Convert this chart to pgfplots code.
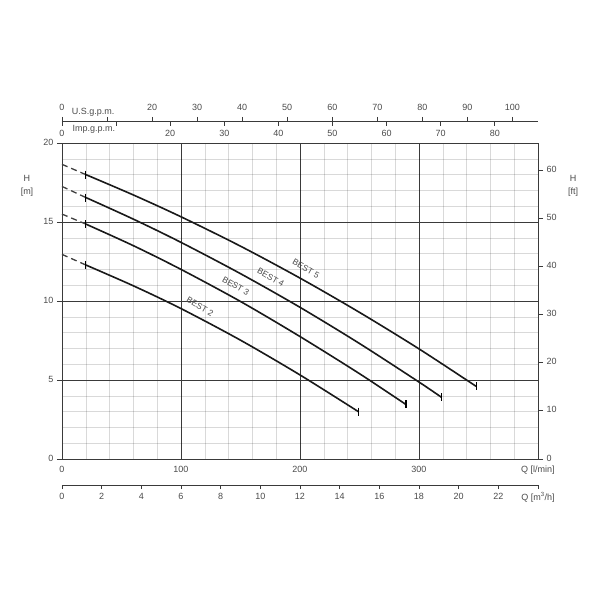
\documentclass[border=0pt]{standalone}
\usepackage{fontspec}
\setmainfont{Liberation Sans}
\usepackage{pgfplots}
\pgfplotsset{compat=1.18}
\definecolor{ax}{HTML}{3A3A3A}
\definecolor{txt}{HTML}{4A4A4A}
\begin{document}
\begin{tikzpicture}[x=1pt,y=1pt]
\useasboundingbox (-62pt,-141pt) rectangle (538pt,459pt);
\pgfplotsset{every axis/.append style={scale only axis, width=476pt,
  /pgf/number format/assume math mode=true,
  tick label style={font=\fontsize{9}{10}\selectfont, text=txt},
  axis line style={ax, line width=0.9pt},
  tick style={ax, line width=0.8pt},
  typeset ticklabels with strut}}
% main axis
\begin{axis}[at={(0pt,0pt)}, anchor=south west, height=316pt,
  xmin=0, xmax=400, ymin=0, ymax=20,
  xtick={0,100,200,300,400}, xticklabels={0,100,200,300,{Q [l/min]}},
  ytick={0,5,10,15,20},
  minor x tick num=4, minor y tick num=4,
  grid=both,
  major grid style={ax, line width=0.8pt},
  minor grid style={black, opacity=0.15, line width=0.5pt},
  ytick pos=left, xtick pos=bottom,
  tick align=outside, major tick length=5pt, minor tick length=0pt,
  xtick style={draw=none},
  xticklabel style={yshift=2pt},
  clip=false]
% dashed starts
\addplot[black!75, line width=1.3pt, dash pattern=on 6pt off 4pt] coordinates {(0,18.65) (20,18.0)};
\addplot[black!75, line width=1.3pt, dash pattern=on 6pt off 4pt] coordinates {(0,17.25) (20,16.55)};
\addplot[black!75, line width=1.3pt, dash pattern=on 6pt off 4pt] coordinates {(0,15.5) (20,14.87)};
\addplot[black!75, line width=1.3pt, dash pattern=on 6pt off 4pt] coordinates {(0,12.95) (20,12.28)};
% BEST 5
\addplot[black!90, line width=1.6pt, smooth] coordinates {(20,18.0) (60,16.71) (100,15.33) (150,13.47) (200,11.45) (250,9.28) (300,6.97) (348,4.6)};
% BEST 4
\addplot[black!90, line width=1.6pt, smooth] coordinates {(20,16.55) (60,15.18) (100,13.71) (150,11.73) (200,9.6) (250,7.31) (300,4.87) (319,3.9)};
% BEST 3
\addplot[black!90, line width=1.6pt, smooth] coordinates {(20,14.87) (60,13.5) (100,12.0) (150,9.97) (200,7.75) (250,5.4) (289,3.45)};
% BEST 2
\addplot[black!90, line width=1.6pt, smooth] coordinates {(20,12.28) (60,10.96) (100,9.52) (150,7.52) (200,5.32) (249,3.0)};
% end marks
\addplot[only marks, mark=|, mark size=4pt, mark options={line width=1.2pt, black}] coordinates {(20,18.0) (20,16.55) (20,14.87) (20,12.28) (348,4.6) (319,3.9) (289,3.45) (249,3.0)};
\node[rotate=-30, text=txt, font=\fontsize{8.5}{10}\selectfont] at (axis cs:205,12.05) {BEST 5};
\node[rotate=-30, text=txt, font=\fontsize{8.5}{10}\selectfont] at (axis cs:175.4,11.5) {BEST 4};
\node[rotate=-30, text=txt, font=\fontsize{8.5}{10}\selectfont] at (axis cs:146,10.95) {BEST 3};
\node[rotate=-30, text=txt, font=\fontsize{8.5}{10}\selectfont] at (axis cs:116,9.65) {BEST 2};
\end{axis}
% right ft axis
\begin{axis}[at={(0pt,0pt)}, anchor=south west, height=316pt,
  xmin=0, xmax=400, ymin=0, ymax=65.6168,
  hide x axis, axis y line*=right,
  ytick={0,10,20,30,40,50,60},
  tick align=outside, major tick length=5pt]
\addplot[draw=none] coordinates {(0,0)};
\end{axis}
% bottom m3/h axis
\begin{axis}[at={(0pt,-26pt)}, anchor=south west, height=10pt,
  xmin=0, xmax=24, ymin=0, ymax=1,
  axis x line*=bottom, hide y axis,
  xtick={0,2,4,6,8,10,12,14,16,18,20,22,24},
  xticklabels={0,2,4,6,8,10,12,14,16,18,20,22,{Q [m\textsuperscript{3}/h]}},
  tick align=outside, major tick length=4pt]
\addplot[draw=none] coordinates {(0,0)};
\end{axis}
% top US gpm axis
\begin{axis}[at={(0pt,338pt)}, anchor=north west, height=10pt,
  xmin=0, xmax=105.668, ymin=0, ymax=1,
  axis x line*=top, hide y axis,
  xtick={0,10,20,30,40,50,60,70,80,90,100},
  xticklabels={0,,20,30,40,50,60,70,80,90,100},
  extra x ticks={6.9}, extra x tick labels={U.S.g.p.m.},
  extra x tick style={major tick length=0pt},
  tick align=outside, major tick length=4pt]
\addplot[draw=none] coordinates {(0,0)};
\end{axis}
% top Imp gpm axis
\begin{axis}[at={(0pt,338pt)}, anchor=south west, height=10pt,
  xmin=0, xmax=87.988, ymin=0, ymax=1,
  axis x line*=bottom, hide y axis,
  xtick={0,10,20,30,40,50,60,70,80},
  xticklabels={0,,20,30,40,50,60,70,80},
  extra x ticks={5.9}, extra x tick labels={Imp.g.p.m.},
  extra x tick style={major tick length=0pt},
  tick align=outside, major tick length=5pt]
\addplot[draw=none] coordinates {(0,0)};
\end{axis}
\node[align=center, text=txt, font=\fontsize{9}{13}\selectfont] at (-35pt,273.5pt) {H\\{[m]}};
\node[align=center, text=txt, font=\fontsize{9}{13}\selectfont] at (511pt,273pt) {H\\{[ft]}};
\end{tikzpicture}
\end{document}
